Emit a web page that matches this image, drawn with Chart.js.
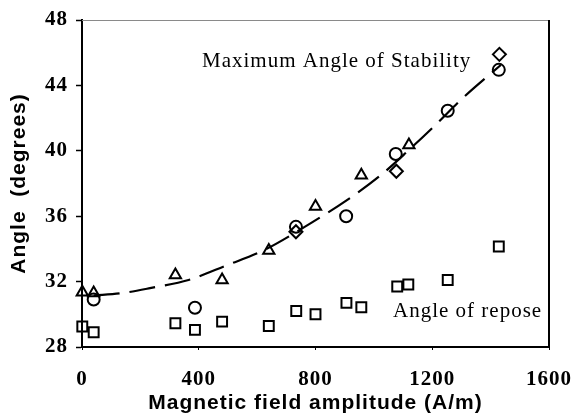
<!DOCTYPE html>
<html>
<head>
<meta charset="utf-8">
<script src="https://cdn.jsdelivr.net/npm/chart.js@4/dist/chart.umd.min.js"></script>
<style>
html,body{margin:0;padding:0;background:#fff;}
#c{display:block;}
</style>
</head>
<body>
<canvas id="c" width="574" height="416"></canvas>
<script>
// Data
const triX = [1, 40, 320, 480, 640, 800, 957, 1120];
const triY = [31.35, 31.3, 32.4, 32.1, 33.9, 36.6, 38.5, 40.35];
const circX = [40, 387, 733, 905, 1075, 1253, 1428];
const circY = [30.9, 30.4, 35.35, 36.0, 39.8, 42.45, 44.95];
const diaX = [733, 1077, 1430];
const diaY = [35.05, 38.75, 45.9];
const sqX = [1, 40, 320, 387, 480, 640, 734, 800, 906, 957, 1080, 1118, 1253, 1428];
const sqY = [29.25, 28.9, 29.45, 29.05, 29.55, 29.28, 30.2, 30.0, 30.7, 30.43, 31.7, 31.82, 32.1, 34.15];
// dashed trend curve, points read along the drawn dashes
const fitX = [40, 130, 233, 365, 496, 621, 777, 909, 1023, 1120, 1212, 1309, 1435];
const fitY = [31.15, 31.28, 31.6, 32.1, 33.0, 33.9, 35.5, 37.0, 38.5, 40.05, 41.6, 43.3, 45.25];
const xTicks = [0, 400, 800, 1200, 1600];
const yTicks = [28, 32, 36, 40, 44, 48];
const labelStability = 'Maximum Angle of Stability';
const labelRepose = 'Angle of repose';
const xTitle = 'Magnetic field amplitude (A/m)';
const yTitle = 'Angle  (degrees)';

const SERIF = '"Liberation Serif", "Times New Roman", Times, serif';
const SANS = '"Liberation Sans", Arial, Helvetica, sans-serif';

const pts = (xs, ys) => xs.map((x, i) => ({x: x, y: ys[i]}));

const spacingPlugin = {
  id: 'spacing',
  beforeDraw(chart) { chart.ctx.letterSpacing = '1px'; }
};

const framePlugin = {
  id: 'frame',
  afterDraw(chart) {
    const {ctx, chartArea: a} = chart;
    ctx.save();
    ctx.letterSpacing = '0px';
    ctx.strokeStyle = '#8a8a8a';
    ctx.lineWidth = 1;
    ctx.beginPath();
    ctx.moveTo(a.left, a.top + 0.5);
    ctx.lineTo(a.right, a.top + 0.5);
    ctx.stroke();
    ctx.strokeStyle = '#000';
    ctx.lineWidth = 2;
    ctx.beginPath();
    ctx.moveTo(a.right, a.top);
    ctx.lineTo(a.right, a.bottom + 1);
    ctx.stroke();
    ctx.fillStyle = '#000';
    ctx.font = '21px ' + SERIF;
    ctx.letterSpacing = '1px';
    ctx.textAlign = 'left';
    ctx.textBaseline = 'alphabetic';
    ctx.fillText(labelStability, 202, 67);
    ctx.fillText(labelRepose, 393, 317);
    ctx.restore();
  }
};

const markerBase = {
  showLine: false,
  clip: false,
  borderColor: '#000',
  backgroundColor: 'rgba(0,0,0,0)',
  borderWidth: 2,
  pointBorderWidth: 2,
  pointHoverRadius: 6
};

new Chart(document.getElementById('c'), {
  type: 'scatter',
  data: {
    datasets: [
      {
        type: 'line',
        data: pts(fitX, fitY),
        borderColor: '#000',
        borderWidth: 2.2,
        borderDash: [26, 10],
        pointRadius: 0,
        fill: false,
        tension: 0.4,
        cubicInterpolationMode: 'monotone'
      },
      Object.assign({}, markerBase, {data: pts(triX, triY), pointStyle: 'triangle', pointRadius: 6.5}),
      Object.assign({}, markerBase, {data: pts(circX, circY), pointStyle: 'circle', pointRadius: 6}),
      Object.assign({}, markerBase, {data: pts(diaX, diaY), pointStyle: 'rectRot', pointRadius: 6.5}),
      Object.assign({}, markerBase, {data: pts(sqX, sqY), pointStyle: 'rect', pointRadius: 7})
    ]
  },
  options: {
    responsive: false,
    animation: false,
    events: [],
    layout: {padding: {top: 20, right: 25, left: 0, bottom: 0}},
    plugins: {legend: {display: false}, tooltip: {enabled: false}},
    scales: {
      x: {
        type: 'linear',
        min: 0, max: 1600,
        afterBuildTicks(s) { s.ticks = xTicks.map(v => ({value: v})); },
        afterFit(s) { s.height = 69; s.paddingLeft = 0; s.paddingRight = 0; },
        border: {color: '#000', width: 2},
        grid: {drawOnChartArea: false, color: '#000', tickLength: 3, tickWidth: 1},
        ticks: {
          color: '#000', padding: 17,
          callback: (v) => String(v),
          font: {family: SERIF, size: 21, weight: 'bold'}
        },
        title: {
          display: true, text: xTitle, color: '#000',
          padding: {top: 0, bottom: 0},
          font: {family: SANS, size: 21, weight: 'bold'}
        }
      },
      y: {
        type: 'linear',
        min: 28, max: 48,
        afterBuildTicks(s) { s.ticks = yTicks.map(v => ({value: v})); },
        afterFit(s) { s.width = 82; s.paddingTop = 0; s.paddingBottom = 0; },
        border: {color: '#000', width: 2},
        grid: {drawOnChartArea: false, color: '#000', tickLength: 6, tickWidth: 1.5},
        ticks: {
          color: '#000', padding: 8,
          callback: (v) => String(v),
          font: {family: SERIF, size: 21, weight: 'bold'}
        },
        title: {
          display: true, text: yTitle, color: '#000',
          padding: {top: 7, bottom: 0},
          font: {family: SANS, size: 21, weight: 'bold'}
        }
      }
    }
  },
  plugins: [spacingPlugin, framePlugin]
});
</script>
</body>
</html>
